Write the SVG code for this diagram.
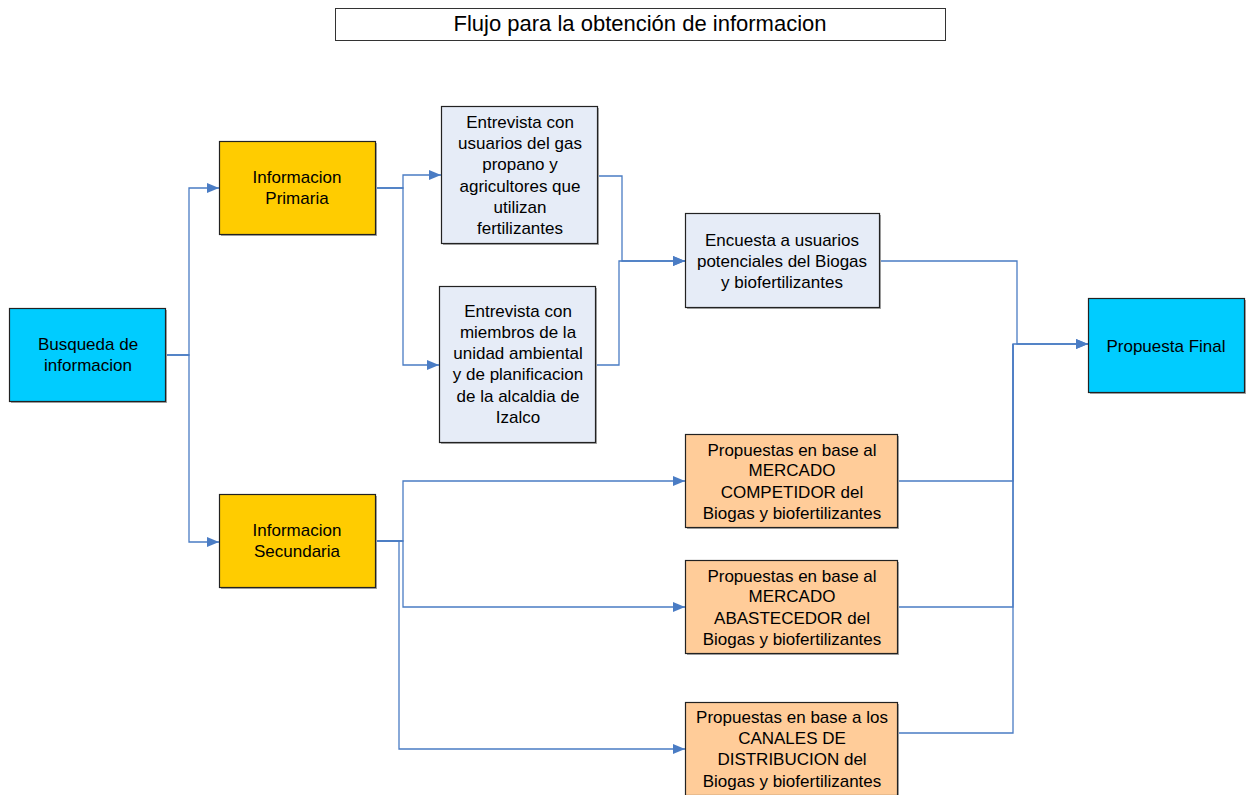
<svg xmlns="http://www.w3.org/2000/svg" width="1249" height="795" viewBox="0 0 1249 795">
  <style>
    text { font-family: "Liberation Sans", Arial, sans-serif; font-size: 17px; fill: #000; text-anchor: middle; }
    .title { font-size: 22px; }
    .box { stroke: #222; stroke-width: 1.2; }
    .shadow { fill: #a8a8a8; }
    .cyan { fill: #00CCFF; }
    .gold { fill: #FFCC00; }
    .pale { fill: #E6ECF7; }
    .peach { fill: #FFCC99; }
    .conn { fill: none; stroke: #4A7CC4; stroke-width: 1.3; }
  </style>
  <defs>
    <marker id="arrow" viewBox="0 0 12 10" refX="12" refY="5" markerWidth="12" markerHeight="10" markerUnits="userSpaceOnUse" orient="auto">
      <path d="M0,0 L12,5 L0,10 z" fill="#4A7CC4"/>
    </marker>
  </defs>
  <rect width="1249" height="795" fill="#fff"/>

  <!-- title -->
  <g id="title">
    <rect x="335.5" y="8.5" width="610" height="32" fill="#fff" stroke="#333" stroke-width="1"/>
    <text class="title" x="640" y="31">Flujo para la obtención de informacion</text>
  </g>

  <!-- connectors -->
  <g id="connectors">
    <path class="conn" d="M166,355 H189 V188 H219" marker-end="url(#arrow)"/>
    <path class="conn" d="M166,355 H189 V542 H219" marker-end="url(#arrow)"/>
    <path class="conn" d="M376,188 H403 V175 H441" marker-end="url(#arrow)"/>
    <path class="conn" d="M376,188 H403 V365 H439" marker-end="url(#arrow)"/>
    <path class="conn" d="M376,541 H403 V481 H685" marker-end="url(#arrow)"/>
    <path class="conn" d="M376,541 H403 V607 H685" marker-end="url(#arrow)"/>
    <path class="conn" d="M376,541 H399 V749 H685" marker-end="url(#arrow)"/>
    <path class="conn" d="M598,176 H622 V261 H685" marker-end="url(#arrow)"/>
    <path class="conn" d="M596,365 H619 V261 H685" marker-end="url(#arrow)"/>
    <path class="conn" d="M880,261 H1017 V344 H1088" marker-end="url(#arrow)"/>
    <path class="conn" d="M898,481 H1013 V344 H1088" marker-end="url(#arrow)"/>
    <path class="conn" d="M898,607 H1013 V344"/>
    <path class="conn" d="M898,733 H1013 V344"/>
  </g>

  <g id="busqueda">
    <rect class="shadow" x="11" y="310" width="156" height="93"/>
    <rect class="box cyan" x="9.5" y="308.5" width="156" height="93"/>
    <text x="88" y="350">Busqueda de</text>
    <text x="88" y="371">informacion</text>
  </g>

  <g id="info-primaria">
    <rect class="shadow" x="221" y="143" width="156" height="93"/>
    <rect class="box gold" x="219.5" y="141.5" width="156" height="93"/>
    <text x="297" y="183">Informacion</text>
    <text x="297" y="204">Primaria</text>
  </g>

  <g id="info-secundaria">
    <rect class="shadow" x="221" y="496" width="156" height="93"/>
    <rect class="box gold" x="219.5" y="494.5" width="156" height="93"/>
    <text x="297" y="536">Informacion</text>
    <text x="297" y="557">Secundaria</text>
  </g>

  <g id="entrevista-usuarios">
    <rect class="shadow" x="443" y="108" width="156" height="137"/>
    <rect class="box pale" x="441.5" y="106.5" width="156" height="137"/>
    <text x="520" y="128">Entrevista con</text>
    <text x="520" y="149">usuarios del gas</text>
    <text x="520" y="170">propano y</text>
    <text x="520" y="192">agricultores que</text>
    <text x="520" y="213">utilizan</text>
    <text x="520" y="234">fertilizantes</text>
  </g>

  <g id="entrevista-alcaldia">
    <rect class="shadow" x="441" y="288" width="156" height="156"/>
    <rect class="box pale" x="439.5" y="286.5" width="156" height="156"/>
    <text x="518" y="317">Entrevista con</text>
    <text x="518" y="338">miembros de la</text>
    <text x="518" y="359">unidad ambiental</text>
    <text x="518" y="380">y de planificacion</text>
    <text x="518" y="402">de la alcaldia de</text>
    <text x="518" y="423">Izalco</text>
  </g>

  <g id="encuesta">
    <rect class="shadow" x="687" y="215" width="194" height="94"/>
    <rect class="box pale" x="685.5" y="213.5" width="194" height="94"/>
    <text x="782" y="246">Encuesta a usuarios</text>
    <text x="782" y="267">potenciales del Biogas</text>
    <text x="782" y="288">y biofertilizantes</text>
  </g>

  <g id="mercado-competidor">
    <rect class="shadow" x="687" y="436" width="212" height="93"/>
    <rect class="box peach" x="685.5" y="434.5" width="212" height="93"/>
    <text x="792" y="456">Propuestas en base al</text>
    <text x="792" y="476">MERCADO</text>
    <text x="792" y="498">COMPETIDOR del</text>
    <text x="792" y="519">Biogas y biofertilizantes</text>
  </g>

  <g id="mercado-abastecedor">
    <rect class="shadow" x="687" y="562" width="212" height="93"/>
    <rect class="box peach" x="685.5" y="560.5" width="212" height="93"/>
    <text x="792" y="582">Propuestas en base al</text>
    <text x="792" y="602">MERCADO</text>
    <text x="792" y="624">ABASTECEDOR del</text>
    <text x="792" y="645">Biogas y biofertilizantes</text>
  </g>

  <g id="canales-distribucion">
    <rect class="shadow" x="687" y="704" width="212" height="93"/>
    <rect class="box peach" x="685.5" y="702.5" width="212" height="93"/>
    <text x="792" y="723">Propuestas en base a los</text>
    <text x="792" y="744">CANALES DE</text>
    <text x="792" y="765">DISTRIBUCION del</text>
    <text x="792" y="787">Biogas y biofertilizantes</text>
  </g>

  <g id="propuesta-final">
    <rect class="shadow" x="1090" y="300" width="156" height="94"/>
    <rect class="box cyan" x="1088.5" y="298.5" width="156" height="94"/>
    <text x="1166" y="352">Propuesta Final</text>
  </g>
</svg>
